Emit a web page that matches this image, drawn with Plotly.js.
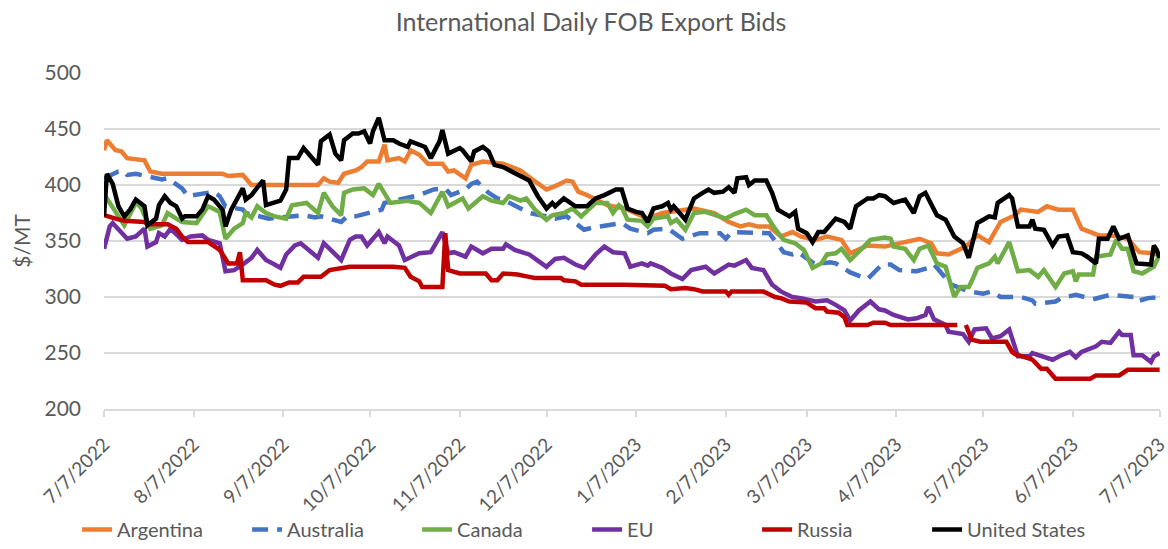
<!DOCTYPE html>
<html>
<head>
<meta charset="utf-8">
<script src="https://cdn.plot.ly/plotly-3.0.1.min.js"></script>
<style>html,body{margin:0;padding:0;background:#fff}#chart{width:1168px;height:549px}</style>
</head>
<body>
<div id="chart"></div>
<script>
// Days since 2022-07-07 and bid values ($/MT)
var startDate = '2022-07-07';

var argentinaDays = [0,1,4,6,8,14,16,20,41,43,48,51,74,76,78,81,83,87,89,91,95,97,98,102,104,106,109,112,117,119,121,125,127,131,138,144,147,153,156,160,162,164,167,170,174,180,188,193,204,211,216,220,223,226,230,234,238,241,246,250,255,258,261,264,270,276,282,286,288,292,295,298,302,306,310,315,317,323,326,330,335,338,344,348,354,358,363,365];
var argentinaVals = [431,440,431,430,424,422,412,410,410,408,409,400,400,406,403,402,410,413,416,421,421,436,422,424,421,431,427,419,419,412,413,406,418,421,419,413,407,396,399,404,403,394,391,387,382,379,370,375,379,375,367,363,365,363,363,354,358,354,351,354,351,339,343,346,345,349,352,348,339,338,342,345,355,349,367,373,378,376,381,378,378,361,355,355,352,340,339,337];

var australiaDays = [0,5,7,8,11,16,20,22,27,29,31,38,40,42,48,49,57,61,69,73,75,82,84,87,94,96,97,103,105,109,114,118,120,125,127,129,133,136,138,144,147,151,156,160,166,169,171,179,182,188,190,195,200,203,206,213,215,217,224,230,235,238,240,246,251,253,258,264,269,272,275,281,285,287,293,299,304,307,310,317,321,322,329,331,336,342,348,356,357,361,365];
var australiaVals = [406,412,412,409,410,407,405,406,397,390,391,394,390,381,378,375,370,371,373,371,372,367,372,372,376,378,384,387,388,391,396,397,391,396,401,403,393,388,387,379,375,373,370,372,360,362,363,366,361,357,360,361,352,355,357,357,352,358,357,357,340,338,340,329,331,330,322,316,329,329,324,323,326,329,311,305,303,305,300,300,297,294,296,299,302,298,302,300,296,299,300];

var canadaDays = [0,2,4,7,10,11,13,16,20,22,25,27,32,36,40,42,45,48,49,51,53,56,59,63,65,70,74,76,79,82,83,86,90,93,95,97,99,102,105,109,113,117,119,124,126,131,134,138,140,144,146,149,153,155,159,162,165,170,174,176,178,179,181,186,188,190,195,196,198,201,204,208,211,215,218,222,225,229,232,235,239,242,245,248,250,253,255,258,262,265,270,272,273,277,280,282,285,288,291,294,296,299,300,302,306,308,309,313,316,320,323,325,329,332,335,336,337,342,343,348,350,352,354,356,359,363,365];
var canadaVals = [392,384,375,364,379,385,379,361,364,375,370,367,366,381,376,352,361,366,375,371,381,375,372,370,382,384,375,393,381,373,393,396,397,391,401,393,384,385,386,384,375,394,381,388,379,390,386,384,390,386,388,378,369,373,375,379,372,384,384,375,382,380,369,368,363,370,372,366,369,360,375,376,373,370,374,378,373,373,361,351,348,342,326,330,338,339,343,333,343,351,353,352,345,343,333,343,346,330,327,300,309,309,314,326,330,336,330,349,323,324,318,324,309,321,323,314,320,320,336,338,351,343,343,323,321,327,338];

var euDays = [0,2,3,5,8,11,14,15,18,19,21,23,27,30,34,36,40,42,45,48,51,53,56,59,61,63,66,68,71,74,76,78,82,85,87,89,91,95,97,98,102,104,109,113,117,119,121,125,127,131,134,138,139,142,147,153,156,159,163,166,170,173,176,180,182,186,188,189,193,196,200,203,208,211,216,218,222,224,228,231,234,238,241,246,250,253,256,258,261,265,268,270,273,278,281,284,285,287,291,292,297,299,301,305,307,310,313,316,320,321,324,328,331,334,336,338,343,345,348,351,352,355,356,359,362,363,365];
var euVals = [343,363,366,360,352,354,361,345,349,357,354,361,351,354,355,351,348,323,324,329,335,342,333,329,326,338,346,348,342,335,348,343,333,351,354,354,346,358,348,354,346,333,339,340,358,339,340,336,345,339,343,343,347,342,338,327,334,335,329,326,338,345,340,339,327,330,328,330,326,321,316,324,327,321,329,328,333,326,324,311,305,300,299,296,297,293,288,279,288,296,289,288,284,280,281,284,291,280,275,269,267,260,271,272,263,265,271,247,247,250,247,244,248,251,246,251,256,260,259,269,266,266,248,248,242,247,250];

var russiaDays = [0,2,4,7,14,15,22,25,27,29,36,40,43,46,47,48,56,59,61,64,67,69,75,78,82,85,100,104,106,109,110,117,118,119,123,132,134,136,138,143,147,149,158,159,163,165,180,194,196,201,204,207,215,216,217,228,232,234,237,243,246,249,250,254,256,257,264,266,270,272,295,296,298,300,303,312,314,315,320,321,324,326,329,341,343,351,354,365];
var russiaVals = [373,372,370,368,367,365,365,361,354,349,349,342,330,330,340,315,315,311,310,313,313,318,318,324,326,327,327,326,318,314,309,309,357,324,321,321,315,315,321,320,318,317,317,315,314,311,311,310,307,308,307,305,305,302,305,305,300,299,296,295,290,290,287,286,282,275,275,277,277,275,275,null,275,262,260,260,251,249,245,244,236,236,227,227,230,230,235,235];

var usDays = [0,1,3,5,7,9,11,14,15,18,19,21,23,25,27,28,32,34,36,38,41,42,44,48,49,51,54,55,56,59,61,63,64,67,69,71,74,75,78,80,82,83,86,88,90,92,93,95,97,100,102,105,106,111,113,116,117,119,123,124,127,128,131,133,135,138,141,143,147,150,153,155,156,159,163,167,170,173,177,179,181,184,186,188,190,193,195,196,197,201,204,207,209,211,214,216,218,219,222,223,225,229,231,233,237,239,240,243,245,247,249,251,253,256,258,260,262,264,266,268,270,273,277,280,282,284,288,291,294,297,299,302,304,306,308,309,313,314,316,320,321,322,325,328,330,333,335,338,340,343,344,347,349,351,354,357,362,363,364,365];
var usVals = [372,410,401,381,372,378,387,381,364,370,382,390,384,381,370,372,372,378,390,387,378,363,378,397,387,391,401,404,382,385,386,396,424,424,433,427,418,439,445,428,422,440,446,446,448,437,448,460,440,440,437,434,439,434,424,439,449,428,433,431,421,430,434,430,418,416,412,409,404,390,379,384,381,388,381,381,388,391,396,396,379,376,375,367,379,381,384,378,381,369,388,393,396,393,394,398,393,406,407,400,404,404,393,378,372,376,361,357,349,358,358,364,370,367,361,381,385,388,388,391,390,384,387,375,390,393,373,369,354,348,335,366,369,372,371,384,391,388,363,363,369,361,360,346,354,355,340,339,336,330,352,352,363,352,355,330,329,346,342,335];

var tickDates = ['2022-07-07','2022-08-07','2022-09-07','2022-10-07','2022-11-07','2022-12-07','2023-01-07','2023-02-07','2023-03-07','2023-04-07','2023-05-07','2023-06-07','2023-07-07'];
var tickLabels = ['7/7/2022','8/7/2022','9/7/2022','10/7/2022','11/7/2022','12/7/2022','1/7/2023','2/7/2023','3/7/2023','4/7/2023','5/7/2023','6/7/2023','7/7/2023'];

function toDates(days) {
  var t0 = Date.UTC(2022, 6, 7);
  return days.map(function (d) { return new Date(t0 + d * 86400000).toISOString().slice(0, 10); });
}

var FONT = 'Lato, "Open Sans", sans-serif';
var GREY = '#595959';

function series(name, days, vals, color, dash) {
  return {
    type: 'scatter', mode: 'lines', name: name,
    x: toDates(days), y: vals,
    connectgaps: false,
    line: {color: color, width: 4.5, dash: dash || 'solid', shape: 'linear'},
    hoverinfo: 'x+y+name'
  };
}

var data = [
  series('Argentina', argentinaDays, argentinaVals, '#ED7D31'),
  series('Australia', australiaDays, australiaVals, '#4472C4', '16px,9px'),
  series('Canada', canadaDays, canadaVals, '#70AD47'),
  series('EU', euDays, euVals, '#7030A0'),
  series('Russia', russiaDays, russiaVals, '#C00000'),
  series('United States', usDays, usVals, '#000000')
];

var layout = {
  width: 1168, height: 549,
  paper_bgcolor: '#ffffff', plot_bgcolor: '#ffffff',
  margin: {l: 104, r: 8, t: 73, b: 140},
  font: {family: FONT, color: GREY, size: 19},
  title: {text: 'International Daily FOB Export Bids', x: 0.506, xref: 'container', xanchor: 'center',
          y: 0.96, yref: 'container', yanchor: 'middle', font: {family: FONT, size: 25, color: GREY}},
  xaxis: {
    type: 'date', range: ['2022-07-07', '2023-07-07 03:00'],
    tickmode: 'array', tickvals: tickDates, ticktext: tickLabels,
    tickangle: -45, tickfont: {family: FONT, size: 19, color: GREY},
    ticklabelstandoff: 9, ticklabeloverflow: 'allow',
    showgrid: false, zeroline: false,
    showline: true, linecolor: '#d9d9d9', linewidth: 2,
    ticks: 'outside', ticklen: 6, tickcolor: '#d9d9d9', tickwidth: 2,
    automargin: false
  },
  yaxis: {
    range: [200, 500], dtick: 50, tick0: 200,
    showgrid: true, gridcolor: '#d9d9d9', gridwidth: 2,
    zeroline: false, showline: false, ticks: '',
    tickfont: {family: FONT, size: 21, color: GREY},
    ticklabelstandoff: 22,
    title: {text: '$/MT', font: {family: FONT, size: 21, color: GREY}, standoff: 8},
    automargin: false
  },
  showlegend: true,
  legend: {orientation: 'h', x: 0.066, xref: 'container', xanchor: 'left', y: -0.012, yref: 'container', yanchor: 'bottom',
           font: {family: FONT, size: 20, color: GREY}, bgcolor: 'rgba(0,0,0,0)',
           entrywidth: 125, entrywidthmode: 'pixels', tracegroupgap: 0},
  hovermode: 'closest'
};

Plotly.newPlot('chart', data, layout, {displayModeBar: false, staticPlot: true});
</script>
</body>
</html>
